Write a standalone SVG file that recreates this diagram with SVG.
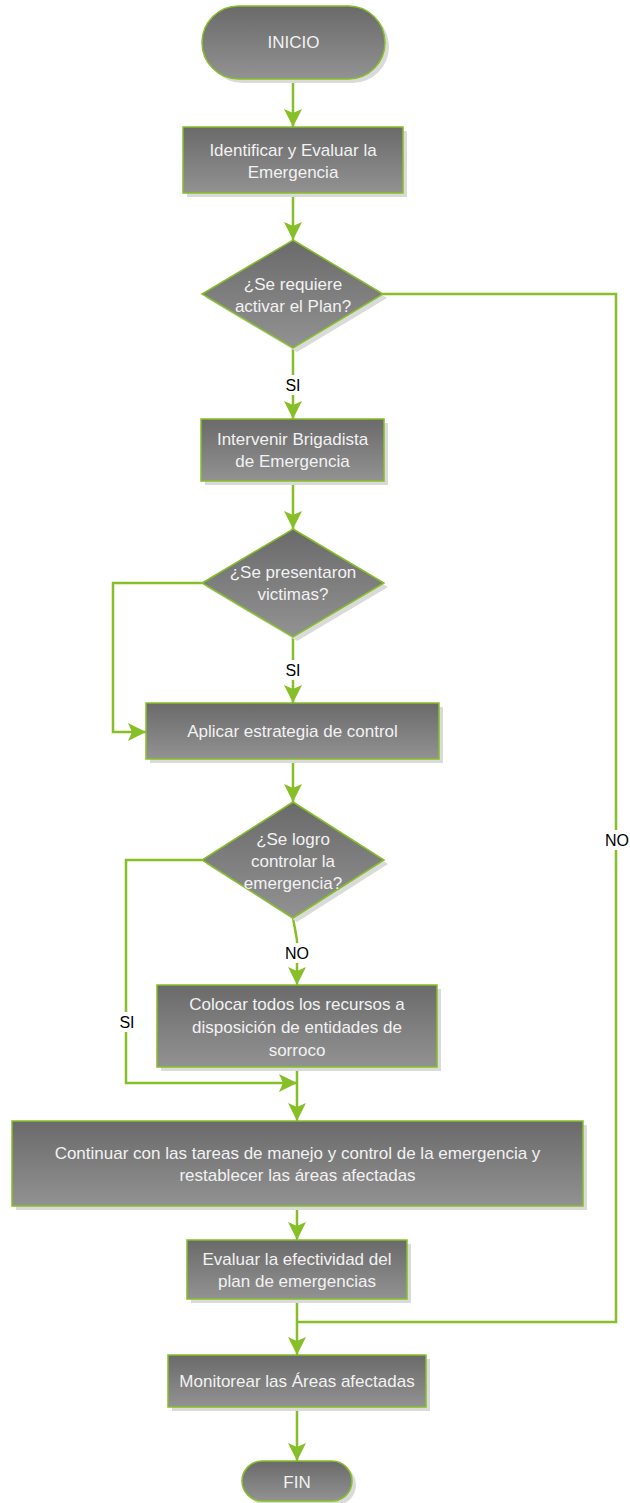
<svg xmlns="http://www.w3.org/2000/svg" width="630" height="1503" viewBox="0 0 630 1503">
<defs>
<linearGradient id="g" x1="0" y1="0" x2="0" y2="1">
<stop offset="0" stop-color="#6a6a6a"/>
<stop offset="1" stop-color="#929292"/>
</linearGradient>
<marker id="ah" markerUnits="userSpaceOnUse" markerWidth="18" markerHeight="20" viewBox="0 0 18 20" refX="18" refY="9" orient="auto">
<path d="M0,0 L18,9 L0,18 L4,9 Z" fill="#86bf27"/>
</marker>
<style>
.sh{fill:#dadada}
.nd{fill:url(#g);stroke:#86bf27;stroke-width:1.5}
.t{font-family:"Liberation Sans",Arial,sans-serif;font-size:17px;fill:#f2f2f2;text-anchor:middle;dominant-baseline:central}
.c{fill:none;stroke:#86bf27;stroke-width:2.5}
.a{marker-end:url(#ah)}
.lb{font-family:"Liberation Sans",Arial,sans-serif;font-size:16px;fill:#000;text-anchor:middle;dominant-baseline:central}
.bg{fill:#fff}
</style>
</defs>
<rect width="630" height="1503" fill="#fff"/>

<g id="connectors">
<path class="c a" d="M293,79 V127"/>
<path class="c a" d="M293,193 V240"/>
<path class="c a" d="M293,348 V419"/>
<path class="c" d="M383,294 H616 V1322 H297"/>
<path class="c a" d="M293,481 V529"/>
<path class="c a" d="M293,637 V703"/>
<path class="c a" d="M202,583 H113 V732 H146"/>
<path class="c a" d="M293,759 V802"/>
<path class="c a" d="M293,918 L297,940 V985"/>
<path class="c a" d="M202,860 H126 V1083 H297"/>
<path class="c a" d="M297,1067 V1121"/>
<path class="c a" d="M297,1206 V1240"/>
<path class="c a" d="M297,1299 V1355"/>
<path class="c a" d="M297,1407 V1461"/>
<g id="labels">
<rect class="bg" x="284" y="375" width="18" height="20"/>
<text class="lb" x="293" y="385">SI</text>
<rect class="bg" x="284" y="660" width="18" height="20"/>
<text class="lb" x="293" y="670">SI</text>
<rect class="bg" x="285" y="943" width="26" height="20"/>
<text class="lb" x="297" y="953">NO</text>
<rect class="bg" x="117" y="1012" width="20" height="20"/>
<text class="lb" x="127" y="1022">SI</text>
<rect class="bg" x="603" y="830" width="28" height="20"/>
<text class="lb" x="617" y="840">NO</text>
</g>
</g>

<g id="inicio">
<rect class="sh" x="206" y="10" width="183" height="73" rx="36.5"/>
<rect class="nd" x="202" y="6" width="183" height="73" rx="36.5"/>
<text class="t" x="293.5" y="42">INICIO</text>
</g>

<g id="identificar">
<rect class="sh" x="187" y="131" width="220" height="66"/>
<rect class="nd" x="183" y="127" width="220" height="66"/>
<text class="t" x="293" y="150">Identificar y Evaluar la</text>
<text class="t" x="293" y="172">Emergencia</text>
</g>

<g id="activar">
<polygon class="sh" points="297,244 387,298 297,352 206,298"/>
<polygon class="nd" points="293,240 383,294 293,348 202,294"/>
<text class="t" x="293" y="284">¿Se requiere</text>
<text class="t" x="293" y="306">activar el Plan?</text>
</g>

<g id="intervenir">
<rect class="sh" x="205" y="423" width="183" height="62"/>
<rect class="nd" x="201" y="419" width="183" height="62"/>
<text class="t" x="292.5" y="439">Intervenir Brigadista</text>
<text class="t" x="292.5" y="461">de Emergencia</text>
</g>

<g id="victimas">
<polygon class="sh" points="297,533 388,587 297,641 206,587"/>
<polygon class="nd" points="293,529 384,583 293,637 202,583"/>
<text class="t" x="293" y="572">¿Se presentaron</text>
<text class="t" x="293" y="594">victimas?</text>
</g>

<g id="aplicar">
<rect class="sh" x="150" y="707" width="293" height="56"/>
<rect class="nd" x="146" y="703" width="293" height="56"/>
<text class="t" x="292.5" y="731">Aplicar estrategia de control</text>
</g>

<g id="logro">
<polygon class="sh" points="297,806 388,864 297,922 206,864"/>
<polygon class="nd" points="293,802 384,860 293,918 202,860"/>
<text class="t" x="293" y="839">¿Se logro</text>
<text class="t" x="293" y="861">controlar la</text>
<text class="t" x="293" y="883">emergencia?</text>
</g>

<g id="colocar">
<rect class="sh" x="161" y="989" width="280" height="82"/>
<rect class="nd" x="157" y="985" width="280" height="82"/>
<text class="t" x="297" y="1004">Colocar todos los recursos a</text>
<text class="t" x="297" y="1027">disposición de entidades de</text>
<text class="t" x="297" y="1050">sorroco</text>
</g>

<g id="continuar">
<rect class="sh" x="16" y="1125" width="571" height="85"/>
<rect class="nd" x="12" y="1121" width="571" height="85"/>
<text class="t" x="297.5" y="1153">Continuar con las tareas de manejo y control de la emergencia y</text>
<text class="t" x="297.5" y="1175">restablecer las áreas afectadas</text>
</g>

<g id="evaluar">
<rect class="sh" x="191" y="1244" width="220" height="59"/>
<rect class="nd" x="187" y="1240" width="220" height="59"/>
<text class="t" x="297" y="1259">Evaluar la efectividad del</text>
<text class="t" x="297" y="1281">plan de emergencias</text>
</g>

<g id="monitorear">
<rect class="sh" x="172" y="1359" width="258" height="52"/>
<rect class="nd" x="168" y="1355" width="258" height="52"/>
<text class="t" x="297" y="1381">Monitorear las Áreas afectadas</text>
</g>

<g id="fin">
<rect class="sh" x="246" y="1465" width="110" height="40" rx="20"/>
<rect class="nd" x="242" y="1461" width="110" height="40" rx="20"/>
<text class="t" x="297" y="1482">FIN</text>
</g>
</svg>
